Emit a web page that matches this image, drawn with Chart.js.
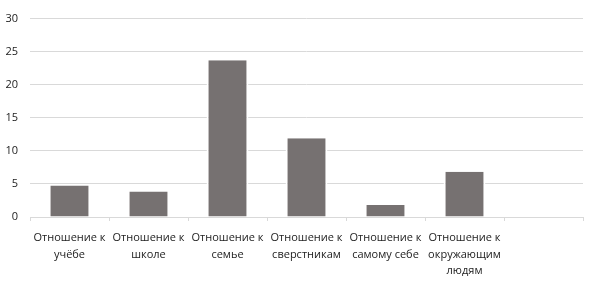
<!DOCTYPE html>
<html>
<head>
<meta charset="utf-8">
<script src="https://cdn.jsdelivr.net/npm/chart.js@4/dist/chart.umd.min.js"></script>
<style>
html,body{margin:0;padding:0;background:#fff;}
#wrap{width:598px;height:281px;position:relative;}
</style>
</head>
<body>
<div id="wrap"><canvas id="c"></canvas></div>
<script>
const categories = [
  ["Отношение к", "учёбе"],
  ["Отношение к", "школе"],
  ["Отношение к", "семье"],
  ["Отношение к", "сверстникам"],
  ["Отношение к", "самому себе"],
  ["Отношение к", "окружающим", "людям"],
  ""
];
const values = [4.75, 3.85, 23.7, 11.9, 1.8, 6.85, null];
const yTicks = [0, 5, 10, 15, 20, 25, 30];

new Chart(document.getElementById('c'), {
  type: 'bar',
  data: {
    labels: categories,
    datasets: [{
      data: values,
      backgroundColor: '#767171',
      borderColor: '#ffffff',
      borderWidth: {left: 2, right: 2, top: 0, bottom: 0},
      borderSkipped: false,
      barPercentage: 0.53,
      categoryPercentage: 1
    }]
  },
  options: {
    responsive: true,
    maintainAspectRatio: false,
    animation: false,
    layout: {padding: {left: 0, right: 15, top: 15, bottom: 0}},
    plugins: {legend: {display: false}, tooltip: {enabled: false}},
    scales: {
      x: {
        grid: {drawOnChartArea: false, drawTicks: true, tickLength: 4, color: '#d9d9d9'},
        border: {color: '#d9d9d9'},
        ticks: {
          color: '#222222', maxRotation: 0, autoSkip: false, padding: 9,
          font: {family: 'Open Sans', size: 11, lineHeight: 1.5}
        },
        afterFit: s => { s.height = 64; }
      },
      y: {
        min: 0, max: 30,
        afterBuildTicks: s => { s.ticks = yTicks.map(v => ({value: v})); },
        grid: {color: '#d9d9d9', drawTicks: false},
        border: {display: false},
        ticks: {color: '#222222', padding: 12, font: {family: 'Open Sans', size: 11}},
        afterFit: s => { s.width = 30; }
      }
    }
  }
});
</script>
</body>
</html>
